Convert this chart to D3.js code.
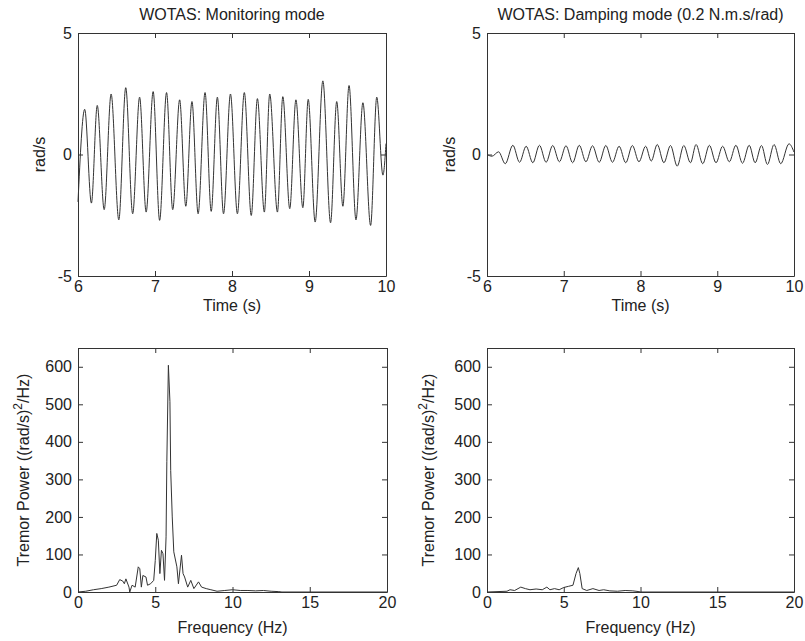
<!DOCTYPE html>
<html>
<head>
<meta charset="utf-8">
<script src="https://cdn.jsdelivr.net/npm/d3@7"></script>
<style>
  body { margin: 0; background: #fff; }
  text { font-family: "Liberation Sans", Arial, sans-serif; fill: #222; }
</style>
</head>
<body>
<svg id="chart" width="805" height="641"></svg>
<script>
// time traces, read as extrema (s, rad/s)
const monitorT = [6.0, 6.087, 6.174, 6.25, 6.34, 6.43, 6.53, 6.62, 6.71, 6.80, 6.885, 6.976, 7.06, 7.15, 7.23, 7.32, 7.40, 7.48, 7.56, 7.65, 7.73, 7.81, 7.89, 7.98, 8.07, 8.16, 8.25, 8.33, 8.42, 8.49, 8.59, 8.66, 8.75, 8.83, 8.92, 8.99, 9.08, 9.18, 9.28, 9.36, 9.44, 9.52, 9.61, 9.70, 9.80, 9.88, 9.96, 10.0];
const monitorV = [-1.95, 1.86, -2.0, 2.02, -2.27, 2.49, -2.69, 2.75, -2.44, 2.36, -2.37, 2.59, -2.71, 2.55, -2.27, 2.25, -2.13, 2.18, -2.44, 2.55, -2.34, 2.36, -2.44, 2.49, -2.44, 2.55, -2.51, 2.30, -2.37, 2.49, -2.37, 2.38, -2.23, 2.25, -2.19, 2.27, -2.78, 3.03, -2.81, 2.18, -2.13, 2.84, -2.69, 2.13, -2.92, 2.36, -0.85, 0.45];

const dampT = [6.0, 6.065, 6.151, 6.238, 6.337, 6.424, 6.51, 6.597, 6.683, 6.77, 6.856, 6.943, 7.029, 7.116, 7.202, 7.289, 7.375, 7.462, 7.548, 7.635, 7.721, 7.808, 7.894, 7.98, 8.067, 8.14, 8.218, 8.305, 8.391, 8.478, 8.564, 8.651, 8.724, 8.811, 8.897, 8.984, 9.07, 9.157, 9.243, 9.329, 9.416, 9.494, 9.576, 9.654, 9.74, 9.827, 9.935, 10.0];
const dampV = [0.0, -0.07, 0.11, -0.38, 0.38, -0.32, 0.34, -0.34, 0.38, -0.32, 0.37, -0.30, 0.36, -0.34, 0.38, -0.30, 0.36, -0.32, 0.37, -0.32, 0.34, -0.34, 0.37, -0.30, 0.34, -0.27, 0.41, -0.34, 0.37, -0.48, 0.37, -0.34, 0.41, -0.38, 0.38, -0.34, 0.34, -0.30, 0.38, -0.36, 0.38, -0.34, 0.37, -0.41, 0.41, -0.38, 0.44, 0.1];

// power spectra (Hz, (rad/s)^2/Hz)
const psdMonF = [0, 0.5, 1.0, 1.5, 2.0, 2.5, 2.7, 2.9, 3.0, 3.1, 3.3, 3.35, 3.5, 3.7, 3.9, 4.0, 4.1, 4.2, 4.4, 4.5, 4.7, 4.9, 5.0, 5.1, 5.2, 5.3, 5.4, 5.5, 5.6, 5.7, 5.75, 5.85, 5.95, 6.0, 6.1, 6.2, 6.4, 6.5, 6.7, 6.8, 6.9, 7.1, 7.3, 7.5, 7.8, 8.0, 8.3, 8.6, 9.0, 9.5, 10.0, 10.5, 11.0, 11.5, 12.0, 12.5, 13.0, 13.2, 20];
const psdMonP = [0, 2, 6, 9, 13, 18, 33, 29, 22, 35, 13, 0, 18, 13, 67, 62, 13, 44, 40, 18, 22, 31, 84, 156, 138, 49, 111, 102, 31, 147, 347, 604, 507, 324, 200, 107, 67, 22, 98, 49, 40, 13, 31, 9, 27, 13, 9, 6, 2, 4, 6, 4, 4, 3, 4, 2, 1, 0, 0];

const psdDampF = [0, 1.3, 1.5, 1.8, 2.2, 2.5, 2.8, 3.2, 3.6, 3.9, 4.1, 4.4, 4.7, 5.0, 5.3, 5.6, 5.8, 5.95, 6.05, 6.2, 6.5, 6.9, 7.3, 7.6, 8.0, 8.5, 9.0, 9.5, 9.9, 10.0, 20];
const psdDampP = [0, 2, 6, 4, 13, 9, 6, 8, 6, 13, 6, 9, 6, 12, 15, 18, 49, 65, 49, 9, 4, 9, 4, 6, 3, 2, 4, 3, 1, 0, 0];

const timeTicks = [6, 7, 8, 9, 10];
const radTicks = [-5, 0, 5];
const freqTicks = [0, 5, 10, 15, 20];
const powerTicks = [0, 100, 200, 300, 400, 500, 600];

const svg = d3.select('#chart');
const lineColor = '#333';
const fmt = d => String(d); // plain hyphen minus, like the original

function drawPanel(opts) {
  const x = d3.scaleLinear().domain(opts.xDomain).range([opts.left, opts.right]);
  const y = d3.scaleLinear().domain(opts.yDomain).range([opts.bottom, opts.top]);
  const g = svg.append('g');

  // box + inward ticks on all sides
  g.append('g')
    .attr('transform', `translate(0,${opts.bottom})`)
    .call(d3.axisBottom(x).tickValues(opts.xTicks).tickFormat(fmt).tickSize(-5).tickSizeOuter(0).tickPadding(5));
  g.append('g')
    .attr('transform', `translate(0,${opts.top})`)
    .call(d3.axisTop(x).tickValues(opts.xTicks).tickSize(-5).tickSizeOuter(0).tickFormat(''));
  g.append('g')
    .attr('transform', `translate(${opts.left},0)`)
    .call(d3.axisLeft(y).tickValues(opts.yTicks).tickFormat(fmt).tickSize(-5).tickSizeOuter(0).tickPadding(6));
  g.append('g')
    .attr('transform', `translate(${opts.right},0)`)
    .call(d3.axisRight(y).tickValues(opts.yTicks).tickSize(-5).tickSizeOuter(0).tickFormat(''));

  g.selectAll('.domain').attr('stroke', lineColor);
  g.selectAll('.tick line').attr('stroke', lineColor);
  g.selectAll('.tick text')
    .attr('font-size', '16px')
    .attr('font-family', '"Liberation Sans", Arial, sans-serif')
    .attr('fill', '#222');

  const data = opts.xs.map((d, i) => [d, opts.ys[i]]);
  g.append('path')
    .datum(data)
    .attr('fill', 'none')
    .attr('stroke', lineColor)
    .attr('stroke-width', 1)
    .attr('d', d3.line().x(d => x(d[0])).y(d => y(d[1])).curve(opts.curve));

  if (opts.title) {
    g.append('text')
      .attr('x', (opts.left + opts.right) / 2)
      .attr('y', opts.top - 13)
      .attr('text-anchor', 'middle')
      .attr('font-size', '16px')
      .text(opts.title);
  }

  g.append('text')
    .attr('x', (opts.left + opts.right) / 2)
    .attr('y', opts.bottom + opts.xLabelGap)
    .attr('text-anchor', 'middle')
    .attr('font-size', '16px')
    .text(opts.xLabel);

  const yl = g.append('text')
    .attr('transform', `translate(${opts.yLabelX},${(opts.top + opts.bottom) / 2}) rotate(-90)`)
    .attr('text-anchor', 'middle')
    .attr('font-size', '16px');
  if (opts.super) {
    yl.append('tspan').text('Tremor Power ((rad/s)');
    yl.append('tspan').attr('dy', -7).attr('font-size', '12px').text('2');
    yl.append('tspan').attr('dy', 7).text('/Hz)');
  } else {
    yl.text(opts.yLabel);
  }
}

drawPanel({
  left: 78, right: 386, top: 33, bottom: 276,
  xDomain: [6, 10], yDomain: [-5, 5], xTicks: timeTicks, yTicks: radTicks,
  xs: monitorT, ys: monitorV, curve: d3.curveMonotoneX,
  title: 'WOTAS: Monitoring mode', xLabel: 'Time (s)', xLabelGap: 35, yLabel: 'rad/s', yLabelX: 45
});

drawPanel({
  left: 487, right: 794, top: 33, bottom: 276,
  xDomain: [6, 10], yDomain: [-5, 5], xTicks: timeTicks, yTicks: radTicks,
  xs: dampT, ys: dampV, curve: d3.curveMonotoneX,
  title: 'WOTAS: Damping mode (0.2 N.m.s/rad)', xLabel: 'Time (s)', xLabelGap: 35, yLabel: 'rad/s', yLabelX: 455
});

drawPanel({
  left: 78, right: 387, top: 348, bottom: 592,
  xDomain: [0, 20], yDomain: [0, 650], xTicks: freqTicks, yTicks: powerTicks,
  xs: psdMonF, ys: psdMonP, curve: d3.curveLinear,
  xLabel: 'Frequency (Hz)', xLabelGap: 41, super: true, yLabelX: 29
});

drawPanel({
  left: 487, right: 794, top: 348, bottom: 592,
  xDomain: [0, 20], yDomain: [0, 650], xTicks: freqTicks, yTicks: powerTicks,
  xs: psdDampF, ys: psdDampP, curve: d3.curveLinear,
  xLabel: 'Frequency (Hz)', xLabelGap: 41, super: true, yLabelX: 434
});
</script>
</body>
</html>
